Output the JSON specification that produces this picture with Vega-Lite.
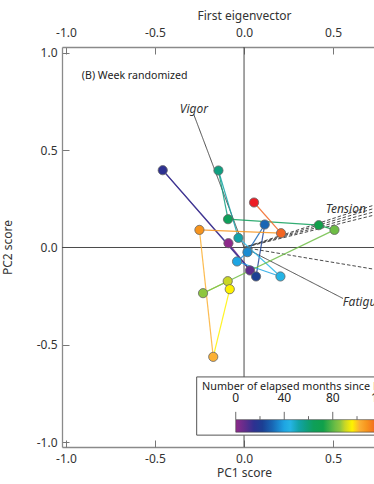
{
  "$schema": "https://vega.github.io/schema/vega-lite/v6.json",
  "autosize": {"type": "none"},
  "padding": {"left": 62, "top": 47, "right": 0, "bottom": 37},
  "width": 312,
  "height": 400,
  "background": "white",
  "config": {"view": {"stroke": null}, "font": "Noto Sans",
    "axis": {"grid": false, "labelColor": "#333", "labelFontSize": 12, "titleFontSize": 12, "titleFontWeight": "normal", "titleColor": "#333",
      "domainColor": "#8a8a8a", "domainWidth": 1.3, "tickColor": "#777", "tickWidth": 1, "labelFlush": false}},
  "datasets": {
    "pts": [
      {"month": 0, "x": -0.0876, "y": 0.0221},
      {"month": 8, "x": 0.0337, "y": -0.1181},
      {"month": 15, "x": -0.4567, "y": 0.3970},
      {"month": 22, "x": 0.0674, "y": -0.1489},
      {"month": 30, "x": 0.1163, "y": 0.1181},
      {"month": 36, "x": 0.0191, "y": -0.0241},
      {"month": 40, "x": -0.0393, "y": -0.0719},
      {"month": 45, "x": 0.2045, "y": -0.1489},
      {"month": 52, "x": -0.0315, "y": 0.0493},
      {"month": 58, "x": -0.1438, "y": 0.3955},
      {"month": 64, "x": -0.0899, "y": 0.1454},
      {"month": 72, "x": 0.4197, "y": 0.1145},
      {"month": 82, "x": 0.5079, "y": 0.0904},
      {"month": 86, "x": -0.2303, "y": -0.2347},
      {"month": 90, "x": -0.0916, "y": -0.1731},
      {"month": 96, "x": -0.0803, "y": -0.2142},
      {"month": 102, "x": -0.1730, "y": -0.5619},
      {"month": 108, "x": -0.2506, "y": 0.0904},
      {"month": 116, "x": 0.2079, "y": 0.0734},
      {"month": 126, "x": 0.0562, "y": 0.2311}
    ],
    "loadings": [
      {"name": "Vigor", "x": -0.283, "y": 0.685, "ox": 0, "oy": 0, "style": "solid"},
      {"name": "Fatigue", "x": 0.556, "y": -0.262, "ox": 0, "oy": 0, "style": "solid"},
      {"name": "Tension", "x": 0.75, "y": 0.2236, "ox": 0, "oy": 0, "style": "dashed"},
      {"name": "Depression", "x": 0.75, "y": 0.2061, "ox": 0, "oy": 0, "style": "dashed"},
      {"name": "Anger", "x": 0.75, "y": 0.1882, "ox": 0, "oy": 0, "style": "dashed"},
      {"name": "Confusion", "x": 0.75, "y": 0.1707, "ox": 0, "oy": 0, "style": "dashed"},
      {"name": "Other", "x": 0.75, "y": -0.1147, "ox": 0, "oy": 0, "style": "dashed"}
    ],
    "labels": [
      {"text": "Vigor", "x": -0.361, "y": 0.691},
      {"text": "Tension", "x": 0.459, "y": 0.176},
      {"text": "Fatigue", "x": 0.555, "y": -0.301}
    ],
    "notes": [
      {"text": "(B) Week randomized", "x": -0.911, "y": 0.864}
    ],
    "legendtitle": [
      {"text": "Number of elapsed months since November 2005", "x": -0.236, "y": -0.732}
    ],
    "box": [
      {"x": -0.266, "x2": 1.2, "y": -0.665, "y2": -0.964}
    ],
    "lgrad": [
      {"x": -0.0466, "x2": 0.812, "y": -0.8844, "y2": -0.9487}
    ],
    "lticks": [
      {"x": -0.0466, "y": -0.8444, "y2": -0.8844},
      {"x": 0.0896, "y": -0.8665, "y2": -0.8844},
      {"x": 0.2258, "y": -0.8444, "y2": -0.8844},
      {"x": 0.3621, "y": -0.8665, "y2": -0.8844},
      {"x": 0.4983, "y": -0.8444, "y2": -0.8844},
      {"x": 0.6346, "y": -0.8665, "y2": -0.8844}
    ],
    "llabels": [
      {"text": "0", "x": -0.0466, "y": -0.796},
      {"text": "40", "x": 0.2258, "y": -0.796},
      {"text": "80", "x": 0.4983, "y": -0.796},
      {"text": "120", "x": 0.7708, "y": -0.796}
    ]
  },
  "resolve": {"axis": {"x": "independent", "y": "independent"}},
  "layer": [
    {
      "data": {"values": [{"v": 0}]},
      "mark": {"type": "rule", "color": "#4a4a4a", "strokeWidth": 1},
      "encoding": {
        "x": {"field": "v", "type": "quantitative", "scale": {"domain": [-1.0225, 0.73], "nice": false, "zero": false},
          "axis": {"orient": "top", "title": "First eigenvector", "values": [-1, -0.5, 0, 0.5],
            "labelExpr": "replace(format(datum.value, '.1f'), '\u2212', '-')",
            "offset": -7, "domain": false, "tickSize": 7, "labelPadding": 7.5,
            "titleX": 182, "titleY": -34.5, "titleBaseline": "alphabetic"}}
      }
    },
    {
      "data": {"values": [{"v": 0}]},
      "mark": {"type": "rule", "color": "#4a4a4a", "strokeWidth": 1},
      "encoding": {
        "y": {"field": "v", "type": "quantitative", "scale": {"domain": [-1.025, 1.03], "nice": false, "zero": false},
          "axis": {"orient": "left", "title": "PC2 score", "values": [-1, -0.5, 0, 0.5, 1],
            "labelExpr": "replace(format(datum.value, '.1f'), '\u2212', '-')",
            "offset": -7, "domain": false, "tickSize": 7, "labelPadding": 5,
            "titleX": -57.5, "titleY": 200, "titleAngle": 270, "titleBaseline": "alphabetic"}}
      }
    },
    {
      "data": {"name": "loadings"},
      "mark": {"type": "rule", "color": "#4a4a4a", "strokeWidth": 1, "clip": true},
      "encoding": {
        "x": {"field": "x", "type": "quantitative", "scale": {"domain": [-1.0225, 0.73], "nice": false, "zero": false},
          "axis": {"orient": "top", "ticks": false, "labels": false, "title": null, "domain": true}},
        "y": {"field": "y", "type": "quantitative", "scale": {"domain": [-1.025, 1.03], "nice": false, "zero": false},
          "axis": {"orient": "left", "ticks": false, "labels": false, "title": null, "domain": true}},
        "x2": {"field": "ox"},
        "y2": {"field": "oy"},
        "strokeDash": {"field": "style", "type": "nominal", "scale": {"domain": ["solid", "dashed"], "range": [[1, 0], [3.5, 2]]}, "legend": null}
      }
    },
    {
      "data": {"name": "pts"},
      "transform": [
        {"window": [{"op": "lead", "field": "x", "as": "xn"}, {"op": "lead", "field": "y", "as": "yn"}], "sort": [{"field": "month"}]},
        {"filter": "datum.xn != null"}
      ],
      "mark": {"type": "rule", "strokeWidth": 1.2, "opacity": 0.85, "clip": true},
      "encoding": {
        "x": {"field": "x", "type": "quantitative", "scale": {"domain": [-1.0225, 0.73], "nice": false, "zero": false},
          "axis": {"orient": "bottom", "ticks": false, "labels": false, "title": null, "domain": true}},
        "y": {"field": "y", "type": "quantitative", "axis": null},
        "x2": {"field": "xn"},
        "y2": {"field": "yn"},
        "stroke": {"field": "month", "type": "quantitative", "legend": null,
          "scale": {"domain": [0, 8, 15, 22, 30, 36, 40, 45, 52, 58, 64, 72, 82, 86, 90, 96, 102, 108, 116, 126],
            "range": ["#8e2a8b", "#5e2d8c", "#2e3191", "#1b3f93", "#1866b4", "#1b8cd2", "#1ea5e3", "#25b4e5", "#12a3a8", "#0f9f80", "#0e9f5a", "#10a04a", "#6ebd45", "#8dc63f", "#c9d626", "#fff200", "#fbb034", "#f7941d", "#f26522", "#ed1c24"]}}
      }
    },
    {
      "data": {"name": "pts"},
      "mark": {"type": "circle", "size": 85, "opacity": 1, "stroke": "#666", "strokeWidth": 0.8, "clip": true},
      "encoding": {
        "x": {"field": "x", "type": "quantitative", "scale": {"domain": [-1.0225, 0.73], "nice": false, "zero": false},
          "axis": {"orient": "bottom", "title": "PC1 score", "values": [-1, -0.5, 0, 0.5],
            "labelExpr": "replace(format(datum.value, '.1f'), '\u2212', '-')",
            "offset": -7, "domain": false, "tickSize": 7, "labelPadding": 6,
            "titleX": 182, "titleY": 36.5, "titleBaseline": "alphabetic"}},
        "y": {"field": "y", "type": "quantitative", "axis": null},
        "color": {"field": "month", "type": "quantitative", "legend": null,
          "scale": {"domain": [0, 8, 15, 22, 30, 36, 40, 45, 52, 58, 64, 72, 82, 86, 90, 96, 102, 108, 116, 126],
            "range": ["#8e2a8b", "#5e2d8c", "#2e3191", "#1b3f93", "#1866b4", "#1b8cd2", "#1ea5e3", "#25b4e5", "#12a3a8", "#0f9f80", "#0e9f5a", "#10a04a", "#6ebd45", "#8dc63f", "#c9d626", "#fff200", "#fbb034", "#f7941d", "#f26522", "#ed1c24"]}}
      }
    },
    {
      "data": {"name": "labels"},
      "mark": {"type": "text", "align": "left", "baseline": "alphabetic", "fontStyle": "italic", "fontSize": 12, "color": "#333", "clip": true},
      "encoding": {
        "x": {"field": "x", "type": "quantitative", "axis": null},
        "y": {"field": "y", "type": "quantitative", "axis": null},
        "text": {"field": "text"}
      }
    },
    {
      "data": {"name": "notes"},
      "mark": {"type": "text", "align": "left", "baseline": "alphabetic", "fontSize": 10.6, "color": "#222"},
      "encoding": {
        "x": {"field": "x", "type": "quantitative", "axis": null},
        "y": {"field": "y", "type": "quantitative", "axis": null},
        "text": {"field": "text"}
      }
    },
    {
      "data": {"name": "box"},
      "mark": {"type": "rect", "fill": "white", "stroke": "#555", "strokeWidth": 1, "clip": true},
      "encoding": {
        "x": {"field": "x", "type": "quantitative", "axis": null},
        "x2": {"field": "x2"},
        "y": {"field": "y", "type": "quantitative", "axis": null},
        "y2": {"field": "y2"}
      }
    },
    {
      "data": {"name": "lgrad"},
      "mark": {"type": "rect", "stroke": "#444", "strokeWidth": 0.6, "clip": true,
        "fill": {"gradient": "linear", "x1": 0, "y1": 0, "x2": 1, "y2": 0, "stops": [
          {"offset": 0, "color": "#8e2a8b"}, {"offset": 0.0635, "color": "#5e2d8c"}, {"offset": 0.119, "color": "#2e3191"},
          {"offset": 0.1746, "color": "#1b3f93"}, {"offset": 0.2381, "color": "#1866b4"}, {"offset": 0.2857, "color": "#1b8cd2"},
          {"offset": 0.3175, "color": "#1ea5e3"}, {"offset": 0.3571, "color": "#25b4e5"}, {"offset": 0.4127, "color": "#12a3a8"},
          {"offset": 0.4603, "color": "#0f9f80"}, {"offset": 0.5079, "color": "#0e9f5a"}, {"offset": 0.5714, "color": "#10a04a"},
          {"offset": 0.6508, "color": "#6ebd45"}, {"offset": 0.6825, "color": "#8dc63f"}, {"offset": 0.7143, "color": "#c9d626"},
          {"offset": 0.7619, "color": "#fff200"}, {"offset": 0.8095, "color": "#fbb034"}, {"offset": 0.8571, "color": "#f7941d"},
          {"offset": 0.9206, "color": "#f26522"}, {"offset": 1, "color": "#ed1c24"}]}},
      "encoding": {
        "x": {"field": "x", "type": "quantitative", "axis": null},
        "x2": {"field": "x2"},
        "y": {"field": "y", "type": "quantitative", "axis": null},
        "y2": {"field": "y2"}
      }
    },
    {
      "data": {"name": "lticks"},
      "mark": {"type": "rule", "color": "#444", "strokeWidth": 0.8, "clip": true},
      "encoding": {
        "x": {"field": "x", "type": "quantitative", "axis": null},
        "y": {"field": "y", "type": "quantitative", "axis": null},
        "y2": {"field": "y2"}
      }
    },
    {
      "data": {"name": "llabels"},
      "mark": {"type": "text", "align": "center", "baseline": "alphabetic", "fontSize": 12, "color": "#222", "clip": true},
      "encoding": {
        "x": {"field": "x", "type": "quantitative", "axis": null},
        "y": {"field": "y", "type": "quantitative", "axis": null},
        "text": {"field": "text"}
      }
    },
    {
      "data": {"name": "legendtitle"},
      "mark": {"type": "text", "align": "left", "baseline": "alphabetic", "fontSize": 10.8, "color": "#222", "clip": true},
      "encoding": {
        "x": {"field": "x", "type": "quantitative", "axis": null},
        "y": {"field": "y", "type": "quantitative", "axis": null},
        "text": {"field": "text"}
      }
    }
  ]
}
